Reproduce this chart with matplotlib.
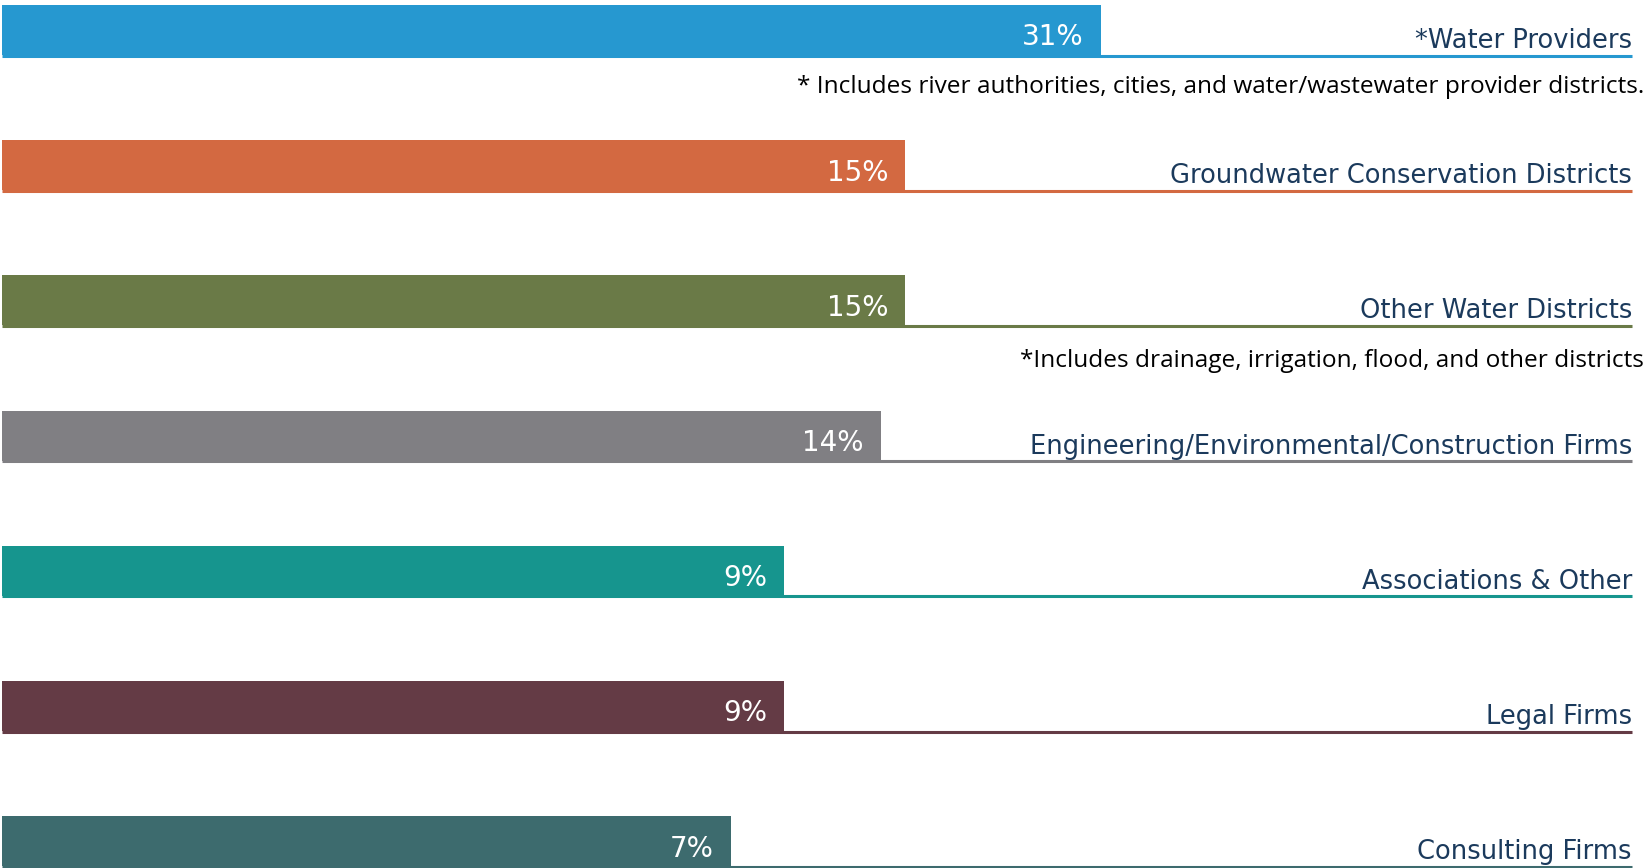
import matplotlib.pyplot as plt
import matplotlib.transforms as mtransforms

# categories, top to bottom
categories = ['*Water Providers', 'Groundwater Conservation Districts', 'Other Water Districts',
              'Engineering/Environmental/Construction Firms', 'Associations & Other',
              'Legal Firms', 'Consulting Firms']
pct_labels = ['31%', '15%', '15%', '14%', '9%', '9%', '7%']
# drawn bar length, in units where the underline rule ends at 100
bar_len = [67.4, 55.4, 55.4, 53.9, 48.0, 48.0, 44.7]
bar_colors = ['#2698D0', '#D36941', '#6A7A47', '#807F83', '#16958E', '#643B45', '#3D6B6E']
notes = ['* Includes river authorities, cities, and water/wastewater provider districts.',
         '*Includes drainage, irrigation, flood, and other districts']
note_rows = [0.466, 2.49]

RULE_END = 100
BAR_H = 0.37
LABEL_COLOR = '#1B3A5C'

fig = plt.figure(figsize=(16.46, 8.68), dpi=100)
ax = fig.add_axes([0, 0, 1, 1])
ax.set_xlim(-0.123, 100.86)
ax.set_ylim(6.198, -0.222)
ax.axis('off')

ypos = list(range(len(categories)))
ax.barh(ypos, bar_len, height=BAR_H, left=0, color=bar_colors, edgecolor='none')

bottoms = [y + BAR_H / 2 for y in ypos]
ax.hlines([b + 0.004 for b in bottoms], 0, RULE_END, colors=bar_colors, lw=2.2)

lab_tr = mtransforms.offset_copy(ax.transData, fig=fig, x=0, y=5, units='points')
pct_tr = mtransforms.offset_copy(ax.transData, fig=fig, x=-12, y=7, units='points')

for y, cat, pct, w in zip(bottoms, categories, pct_labels, bar_len):
    ax.text(RULE_END, y, cat, ha='right', va='baseline', transform=lab_tr,
            fontsize=18.5, family='DejaVu Sans', color=LABEL_COLOR)
    ax.text(w, y, pct, ha='right', va='baseline', transform=pct_tr,
            fontsize=20, family='DejaVu Sans', color='white')

for row, note in zip(note_rows, notes):
    ax.text(100.74, row, note, ha='right', va='baseline',
            fontsize=17.6, family='Open Sans', color='black')

fig.savefig('out.png', dpi=100)
